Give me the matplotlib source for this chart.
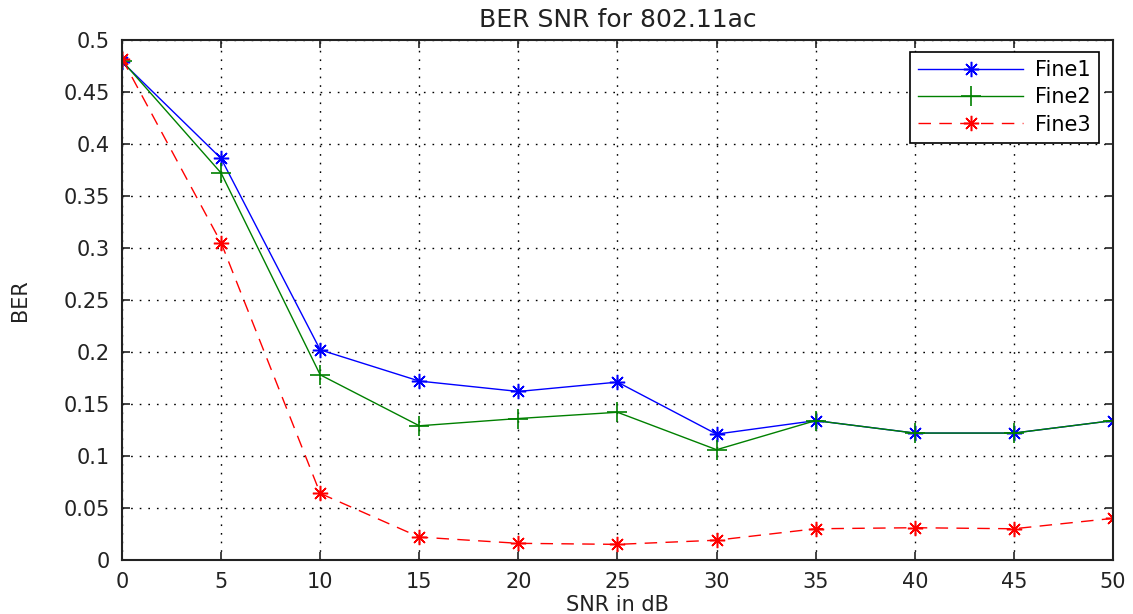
import matplotlib
matplotlib.use("Agg")
import matplotlib.pyplot as plt

# data
snr = [0, 5, 10, 15, 20, 25, 30, 35, 40, 45, 50]
fine1 = [0.479, 0.386, 0.202, 0.172, 0.162, 0.171, 0.121, 0.134, 0.122, 0.122, 0.134]
fine2 = [0.480, 0.372, 0.178, 0.129, 0.136, 0.142, 0.106, 0.134, 0.122, 0.122, 0.134]
fine3 = [0.482, 0.305, 0.064, 0.022, 0.016, 0.015, 0.019, 0.030, 0.031, 0.030, 0.040]
xticks = [0, 5, 10, 15, 20, 25, 30, 35, 40, 45, 50]
yticks = [0, 0.05, 0.1, 0.15, 0.2, 0.25, 0.3, 0.35, 0.4, 0.45, 0.5]
ytick_labels = ['0', '0.05', '0.1', '0.15', '0.2', '0.25', '0.3', '0.35', '0.4', '0.45', '0.5']

plt.rcParams['font.family'] = ['DejaVu Sans']
plt.rcParams['font.size'] = 15

fig = plt.figure(figsize=(11.33, 6.14), dpi=100)
ax = fig.add_axes([0.1077, 0.088, 0.8746, 0.847])

# matlab style asterisk = 8 armed marker
star = (8, 2, 0)
ax.plot(snr, fine1, color='#0000ff', lw=1.0, marker=star, markersize=11, markeredgewidth=1.1, label='Fine1')
ax.plot(snr, fine2, color='#008000', lw=1.0, marker='+', markersize=14, markeredgewidth=1.2, label='Fine2')
ax.plot(snr, fine3, color='#ff0000', lw=1.0, dashes=(9, 6), marker=star, markersize=11, markeredgewidth=1.1,
        label='Fine3')

ax.set_xlim(0, 50)
ax.set_ylim(0, 0.5)
ax.set_xticks(xticks)
ax.set_yticks(yticks)
ax.set_yticklabels(ytick_labels)

# matlab style grid and box
ax.grid(True, color='black', lw=1.0, dashes=(1.2, 5))
ax.tick_params(direction='in', top=True, right=True, length=6, width=1.2, pad=9, colors='#222222')
for s in ax.spines.values():
    s.set_linewidth(1.5)
    s.set_color('#222222')

ax.set_title('BER SNR for 802.11ac', pad=9, color='#222222')
ax.set_xlabel('SNR in dB', labelpad=2, color='#222222')
ax.set_ylabel('BER', color='#222222')
ax.yaxis.set_label_coords(-0.093, 0.5)

leg = ax.legend(loc='upper right', bbox_to_anchor=(0.986, 0.977), borderaxespad=0, fancybox=False,
                framealpha=1, edgecolor='black', handlelength=5.0, borderpad=0.4, labelspacing=0.35,
                handletextpad=0.6)
leg.get_frame().set_linewidth(1.2)

fig.savefig('out.png', dpi=100)
